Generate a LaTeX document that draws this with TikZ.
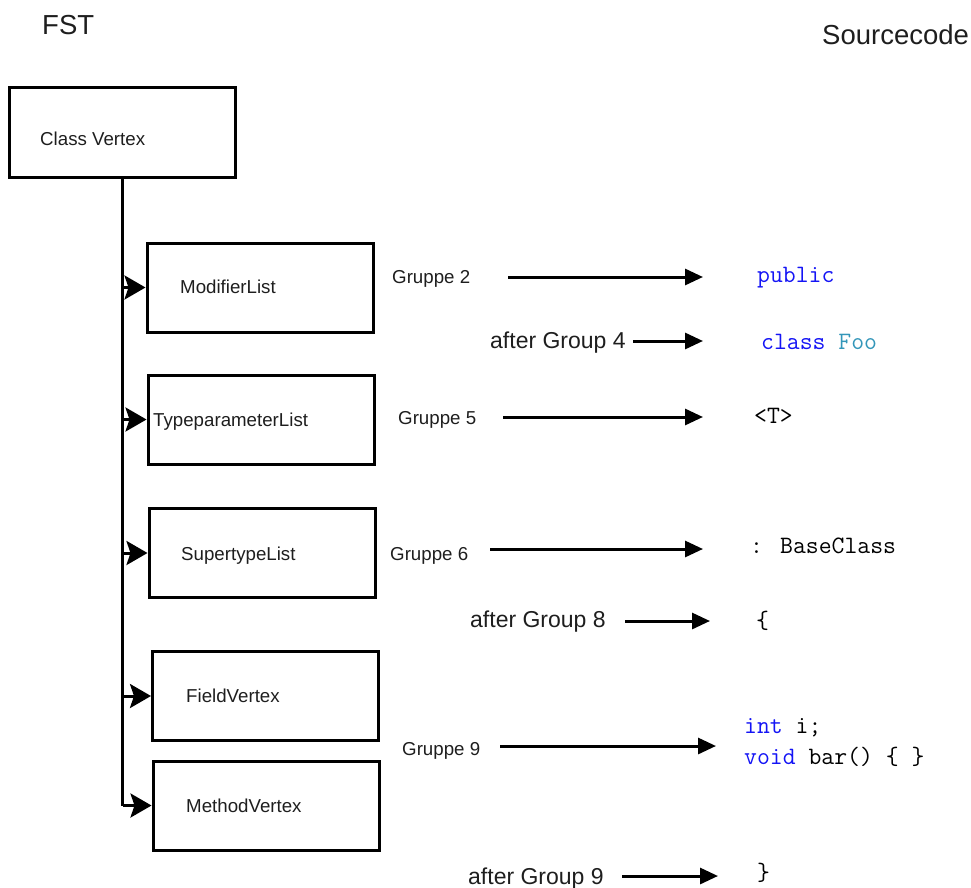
\documentclass[tikz,border=0pt]{standalone}
\usepackage{fontspec}
\setmainfont{Liberation Sans}
\usetikzlibrary{arrows.meta}
\definecolor{kwblue}{RGB}{20,20,245}
\definecolor{idteal}{RGB}{51,150,185}
\definecolor{txt}{RGB}{30,30,30}
\begin{document}
\begin{tikzpicture}[x=1pt,y=-1pt,
  box/.style={draw, line width=3pt, minimum width=226pt, minimum height=89pt, inner sep=0pt},
  boxtext/.style={anchor=base west, inner sep=0pt, text=txt, font=\fontsize{18.7}{20}\selectfont},
  grp/.style={anchor=base west, inner sep=0pt, text=txt, font=\fontsize{18.7}{20}\selectfont},
  after/.style={anchor=base west, inner sep=0pt, text=txt, font=\fontsize{23}{25}\selectfont},
  title/.style={anchor=base west, inner sep=0pt, text=txt, font=\fontsize{27.5}{30}\selectfont},
  code/.style={anchor=base west, inner sep=0pt, font=\ttfamily\fontsize{25}{30}\selectfont},
  trunk/.style={line width=3.5pt},
  branch/.style={line width=3pt, -{Stealth[length=21pt, width=24pt, inset=4pt]}},
  flow/.style={line width=3pt, -{Triangle[length=18pt, width=16pt]}}]
\useasboundingbox (0,0) rectangle (971,888);

% headings
\node[title] (fst) at (42,35) {FST};
\node[title] (src) at (822,45) {Sourcecode};

% FST vertices
\node[box] (cv) at (122.5,132.5) {};
\node[boxtext] (cvt) at (40,146) {Class Vertex};

\node[box] (ml) at (260,287.5) {};
\node[boxtext] (mlt) at (180,293) {ModifierList};

\node[box] (tp) at (261,419.5) {};
\node[boxtext] (tpt) at (153,426) {TypeparameterList};

\node[box] (st) at (262,553) {};
\node[boxtext] (stt) at (181,560) {SupertypeList};

\node[box] (fv) at (265.5,696) {};
\node[boxtext] (fvt) at (186,702) {FieldVertex};

\node[box] (mv) at (266,805.5) {};
\node[boxtext] (mvt) at (186,812) {MethodVertex};

% tree edges from the class vertex
\draw[trunk] (cv.south) -- (cv.south |- mv.west);
\draw[branch] (cv.south |- ml.west) -- (ml.west);
\draw[branch] (cv.south |- tp.west) -- (tp.west);
\draw[branch] (cv.south |- st.west) -- (st.west);
\draw[branch] (cv.south |- fv.west) -- (fv.west);
\draw[branch] (cv.south |- mv.west) -- (mv.west);

% group labels
\node[grp] (g2) at (392,283) {Gruppe 2};
\node[after] (a4) at (490,348) {after Group 4};
\node[grp] (g5) at (398,424) {Gruppe 5};
\node[grp] (g6) at (390,560) {Gruppe 6};
\node[after] (a8) at (470,627) {after Group 8};
\node[grp] (g9) at (402,755) {Gruppe 9};
\node[after] (a9) at (468,884) {after Group 9};

% generated source code
\node[code, text=kwblue] (pub) at (757,282) {public};
\node[code] (cls) at (761,349) {\textcolor{kwblue}{class} \textcolor{idteal}{Foo}};
\node[code] (tpar) at (754,423) {<T>};
\node[code] (base) at (750,553) {: BaseClass};
\node[code] (lbr) at (756,628) {\{};
\node[code] (fld) at (744,733) {\textcolor{kwblue}{int} i;};
\node[code] (mth) at (744,764) {\textcolor{kwblue}{void} bar() \{ \}};
\node[code] (rbr) at (757,880) {\}};

% arrow ends
\coordinate (g2s) at (508,277);  \coordinate (g2e) at (703,277);
\coordinate (a4s) at (633,341);  \coordinate (a4e) at (703,341);
\coordinate (g5s) at (503,417);  \coordinate (g5e) at (703,417);
\coordinate (g6s) at (490,549);  \coordinate (g6e) at (703,549);
\coordinate (a8s) at (625,621);  \coordinate (a8e) at (710,621);
\coordinate (g9s) at (500,746);  \coordinate (g9e) at (716,746);
\coordinate (a9s) at (622,876);  \coordinate (a9e) at (718,876);

\draw[flow] (g2s) -- (g2e);
\draw[flow] (a4s) -- (a4e);
\draw[flow] (g5s) -- (g5e);
\draw[flow] (g6s) -- (g6e);
\draw[flow] (a8s) -- (a8e);
\draw[flow] (g9s) -- (g9e);
\draw[flow] (a9s) -- (a9e);
\end{tikzpicture}
\end{document}
